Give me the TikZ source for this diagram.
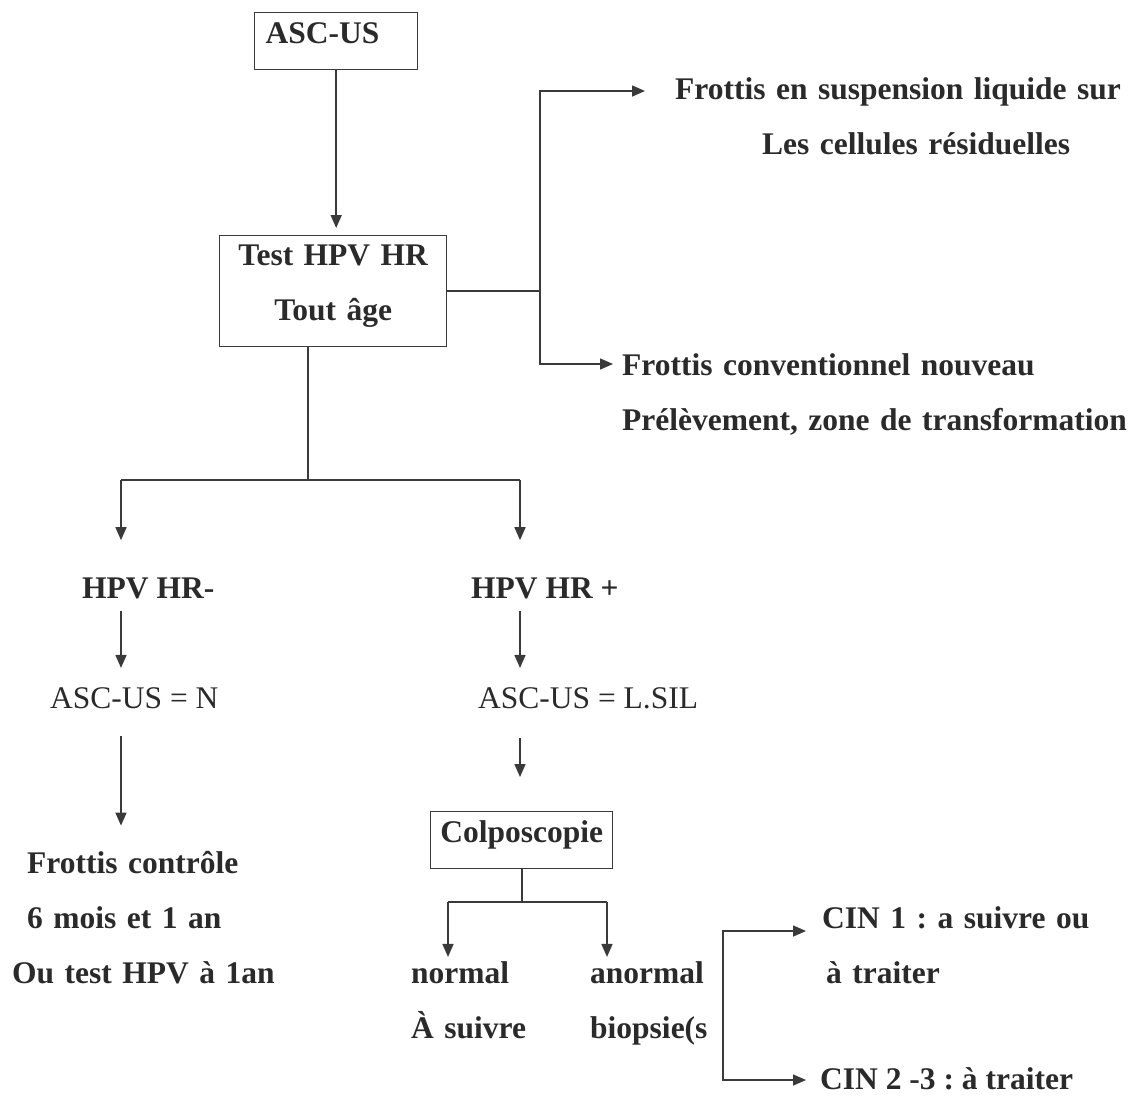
\documentclass[tikz,border=0pt]{standalone}
\usepackage{fontspec}
\setmainfont{Liberation Serif}
\usetikzlibrary{arrows.meta}
\definecolor{ink}{HTML}{2A2A2A}
\definecolor{linec}{HTML}{3A3A3A}
\frenchspacing
\begin{document}
\frenchspacing
\begin{tikzpicture}[x=1pt,y=-1pt,
  txt/.style={inner sep=0pt, text=ink, font=\fontsize{31.5}{55}\selectfont\bfseries\frenchspacing},
  reg/.style={inner sep=0pt, text=ink, font=\fontsize{31.5}{55}\selectfont\frenchspacing},
  box/.style={draw=linec, line width=1.4pt, inner sep=0pt, text=ink, font=\fontsize{31.5}{55}\selectfont\bfseries},
  ln/.style={draw=linec, line width=1.6pt},
  arr/.style={ln, -{Triangle[length=13pt,width=11pt]}}]
\useasboundingbox[fill=white] (0,0) rectangle (1136,1096);

% boxes
\node[box, anchor=north west, text width=141pt, align=left, inner xsep=11pt,
      text height=31pt, text depth=26pt] (ascus) at (254,12) {ASC-US};
\node[box, anchor=north west, text width=227pt, align=center,
      text height=30pt, text depth=81pt] (test) at (219,235) {Test HPV HR\\Tout âge};
\node[box, anchor=north west, text width=182pt, align=center,
      text height=31pt, text depth=26pt] (colpo) at (430,811) {Colposcopie};

% right texts
\node[txt, anchor=base west, text width=460pt, align=left] (fr1) at (675,99)
  {Frottis en suspension liquide sur\\\hspace*{87pt}Les cellules résiduelles};
\node[txt, anchor=base west, text width=520pt, align=left] (fr2) at (622,375)
  {Frottis conventionnel nouveau\\Prélèvement, zone de transformation};

% branches
\node[txt, anchor=base west] (hpvneg) at (82,598) {HPV HR-};
\node[txt, anchor=base west] (hpvpos) at (471,598) {HPV HR +};
\node[reg, anchor=base west] (ascn) at (50,708) {ASC-US = N};
\node[reg, anchor=base west] (ascl) at (478,708) {ASC-US = L.SIL};
\node[txt, anchor=base west, text width=270pt, align=left] (frc) at (27,873)
  {Frottis contrôle\\6 mois et 1 an\\\hspace*{-15pt}Ou test HPV à 1an};

\node[txt, anchor=base west, text width=120pt, align=left] (normal) at (411,983) {normal\\À suivre};
\node[txt, anchor=base west, text width=130pt, align=left] (anormal) at (590,983) {anormal\\biopsie(s};
\node[txt, anchor=base west, text width=280pt, align=left] (cin1) at (822,928) {CIN 1 : a suivre ou\\\hspace*{4pt}à traiter};
\node[txt, anchor=base west] (cin2) at (820,1089) {CIN 2 -3 : à traiter};

% junction coordinates
\coordinate (ja) at (540,91);
\coordinate (jb) at (540,364);
\coordinate (js) at (308,480);
\coordinate (jl) at (121,480);
\coordinate (jr) at (520,480);
\coordinate (jcl) at (448,902);
\coordinate (jcr) at (607,902);
\coordinate (bt) at (723,931);
\coordinate (bb) at (723,1080);

% connectors
\draw[arr, shorten >=7pt] (ascus.south) -- (ascus.south |- test.north);
\draw[ln] (test.east) -- (test.east -| ja);
\draw[arr] (test.east -| ja) -- (ja) -- ([xshift=-30pt,yshift=8pt]fr1.base west);
\draw[arr] (test.east -| ja) -- (jb) -- ([xshift=-9pt,yshift=11pt]fr2.base west);

\draw[ln] (test.south -| js) -- (js);
\draw[ln] (jl) -- (jr);
\draw[arr, shorten >=37pt] (jl) -- (jl |- hpvneg.north);
\draw[arr, shorten >=37pt] (jr) -- (jr |- hpvpos.north);
\draw[arr, shorten <=12pt, shorten >=19pt] (hpvneg.south -| jl) -- (ascn.north -| jl);
\draw[arr, shorten <=12pt, shorten >=19pt] (hpvpos.south -| jr) -- (ascl.north -| jr);
\draw[arr, shorten <=27pt, shorten >=25pt] (ascn.south -| jl) -- (frc.north -| jl);
\draw[arr, shorten <=29pt, shorten >=34pt] (ascl.south -| jr) -- (colpo.north -| jr);

\draw[ln] (colpo.south) -- (colpo.south |- jcl);
\draw[ln] (jcl) -- (jcr);
\draw[arr, shorten >=4pt] (jcl) -- (jcl |- normal.north);
\draw[arr, shorten >=4pt] (jcr) -- (jcr |- anormal.north);

\draw[arr] (bb) -- (bt) -- ([xshift=-16pt,yshift=-3pt]cin1.base west);
\draw[arr] (bt) -- (bb) -- ([xshift=-14pt,yshift=9pt]cin2.base west);
\end{tikzpicture}
\end{document}
